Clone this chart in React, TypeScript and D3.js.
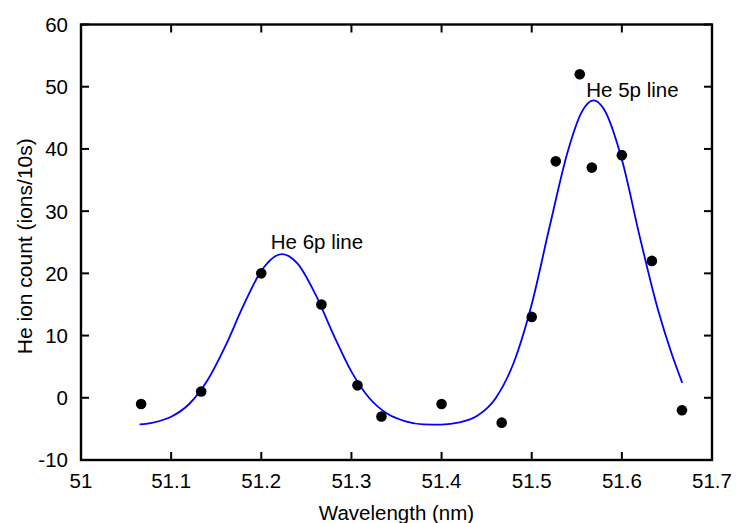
import React from 'react'
import * as d3 from 'd3'

// measured points
const wavelength = [51.0667, 51.1333, 51.2, 51.2667, 51.3067, 51.3333, 51.4, 51.4667, 51.5, 51.5267, 51.5533, 51.5667, 51.6, 51.6333, 51.6667]
const ionCount = [-1, 1, 20, 15, 2, -3, -1, -4, 13, 38, 52, 37, 39, 22, -2]

// fitted curve
const fitX = [51.065, 51.08, 51.1, 51.12, 51.14, 51.16, 51.18, 51.2, 51.223, 51.24, 51.26, 51.28, 51.3, 51.32, 51.34, 51.36, 51.38, 51.4, 51.42, 51.44, 51.46, 51.48, 51.5, 51.52, 51.54, 51.555, 51.5686, 51.58, 51.6, 51.62, 51.64, 51.655, 51.667]
const fitY = [-4.29, -3.98, -3.05, -1.0, 2.73, 8.25, 14.76, 20.4, 23.1, 21.6, 16.65, 10.17, 4.21, -0.08, -2.58, -3.78, -4.27, -4.3, -3.97, -2.86, -0.06, 5.63, 15.04, 27.6, 39.6, 45.8, 47.8, 46.4, 38.3, 25.8, 14.2, 7.2, 2.4]

const xTicks = [51, 51.1, 51.2, 51.3, 51.4, 51.5, 51.6, 51.7]
const yTicks = [-10, 0, 10, 20, 30, 40, 50, 60]

const labels = [
  {text: 'He 6p line', x: 51.2105, y: 23.9},
  {text: 'He 5p line', x: 51.5605, y: 48.4}
]

const font = '"Liberation Sans", Arial, Helvetica, sans-serif'

export default function App() {
  const left = 81
  const right = 712
  const top = 24.5
  const bottom = 460
  const tickLen = 8

  const x = d3.scaleLinear().domain([51, 51.7]).range([left, right])
  const y = d3.scaleLinear().domain([-10, 60]).range([bottom, top])

  const line = d3
    .line<number>()
    .x((d, i) => x(fitX[i]))
    .y(d => y(d))
    .curve(d3.curveMonotoneX)

  return (
    <svg
      width={747}
      height={523}
      style={{position: 'absolute', left: 0, top: 0, background: '#fff'}}
      fontFamily={font}
    >
      <rect x={0} y={0} width={747} height={523} fill="#fff" />

      {xTicks.map(t => (
        <g key={'x' + t}>
          <line x1={x(t)} x2={x(t)} y1={bottom} y2={bottom - tickLen} stroke="#000" strokeWidth={2} />
          <line x1={x(t)} x2={x(t)} y1={top} y2={top + tickLen} stroke="#000" strokeWidth={2} />
          <text x={x(t)} y={488} textAnchor="middle" fontSize={20.5} fill="#000">
            {String(t)}
          </text>
        </g>
      ))}

      {yTicks.map(t => (
        <g key={'y' + t}>
          <line x1={left} x2={left + tickLen} y1={y(t)} y2={y(t)} stroke="#000" strokeWidth={2} />
          <line x1={right} x2={right - tickLen} y1={y(t)} y2={y(t)} stroke="#000" strokeWidth={2} />
          <text x={68} y={y(t)} dy="0.36em" textAnchor="end" fontSize={20.5} fill="#000">
            {String(t)}
          </text>
        </g>
      ))}

      <path d={line(fitY) || ''} fill="none" stroke="#0000ff" strokeWidth={1.8} />

      {wavelength.map((w, i) => (
        <circle key={i} cx={x(w)} cy={y(ionCount[i])} r={5.3} fill="#000" />
      ))}

      {labels.map(l => (
        <text key={l.text} x={x(l.x)} y={y(l.y)} fontSize={20.5} fill="#000">
          {l.text}
        </text>
      ))}

      <rect
        x={left}
        y={top}
        width={right - left}
        height={bottom - top}
        fill="none"
        stroke="#000"
        strokeWidth={2.4}
      />

      <text x={(left + right) / 2} y={520} textAnchor="middle" fontSize={20.5} fill="#000">
        Wavelength (nm)
      </text>
      <text
        transform={`translate(32, ${(top + bottom) / 2 + 4}) rotate(-90)`}
        textAnchor="middle"
        fontSize={21}
        fill="#000"
      >
        He ion count (ions/10s)
      </text>
    </svg>
  )
}
